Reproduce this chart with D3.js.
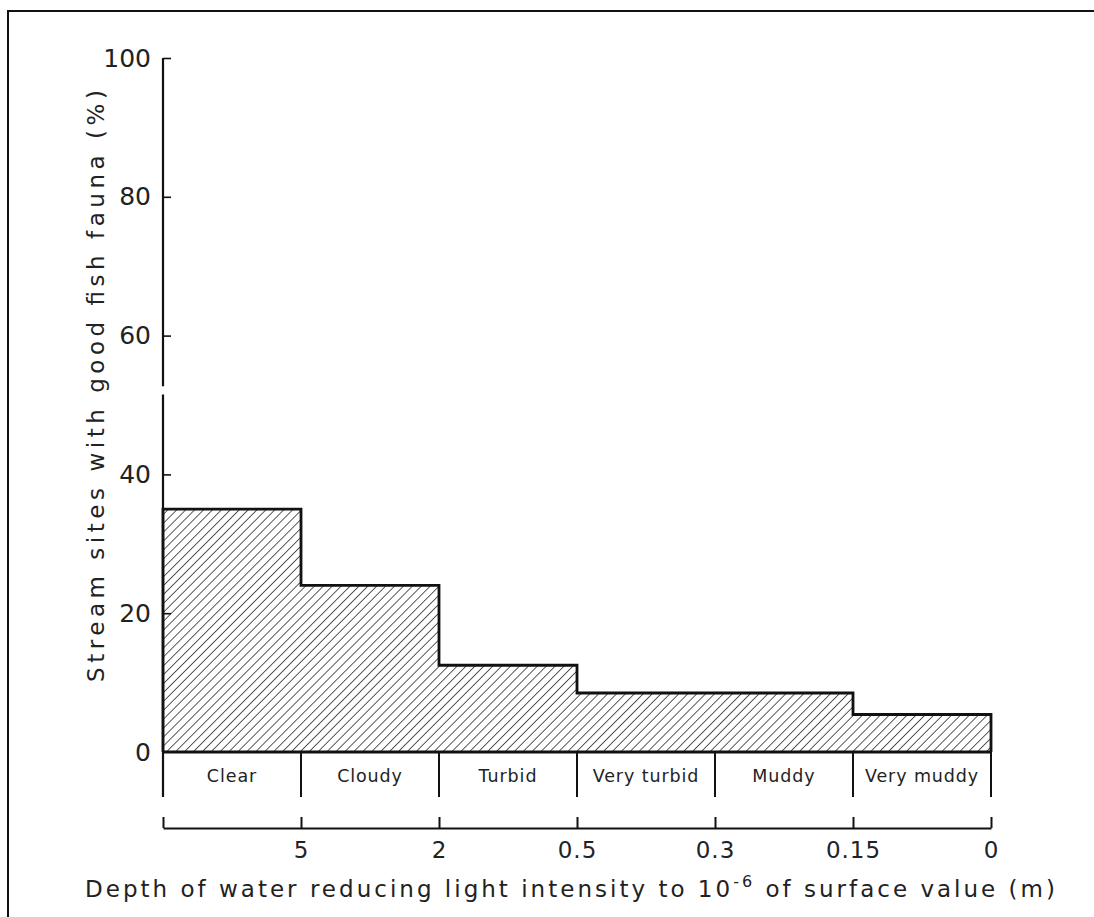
<!DOCTYPE html>
<meta charset="utf-8">
<script src="https://d3js.org/d3.v7.min.js"></script>
<style>
  body { margin: 0; background: #fff; }
  text { font-family: "DejaVu Sans", sans-serif; fill: #222; }
</style>
<div id="chart"></div>
<script>

// water clarity classes and share of sites with good fish fauna (%)
var categories = ["Clear", "Cloudy", "Turbid", "Very turbid", "Muddy", "Very muddy"];
var values = [35, 24, 12.5, 8.5, 8.5, 5.4];
// depth boundaries between classes (m)
var depthLabels = ["", "5", "2", "0.5", "0.3", "0.15", "0"];
var yTicks = [0, 20, 40, 60, 80, 100];

var W = 1094, H = 917;

var svg = d3.select("#chart")
  .append("svg")
    .attr("width", W)
    .attr("height", H);

// frame (runs off the right and bottom edges like the scan)
svg.append("rect")
  .attr("x", 8).attr("y", 11)
  .attr("width", W + 20).attr("height", H + 20)
  .attr("fill", "none")
  .attr("stroke", "#111")
  .attr("stroke-width", 2);

var defs = svg.append("defs");
var pat = defs.append("pattern")
  .attr("id", "hatch")
  .attr("patternUnits", "userSpaceOnUse")
  .attr("width", 6.3).attr("height", 6.3)
  .attr("patternTransform", "rotate(45)");
pat.append("line")
  .attr("x1", 0).attr("y1", 0).attr("x2", 0).attr("y2", 6.3)
  .attr("stroke", "#222")
  .attr("stroke-width", 1.5);

var x = d3.scaleBand()
  .domain(categories)
  .range([163, 991])
  .padding(0);

var xb = d3.scaleLinear()
  .domain([0, depthLabels.length - 1])
  .range([163, 991]);

var y = d3.scaleLinear()
  .domain([0, 100])
  .range([752, 58]);

var rowBottom = 797;

// hatched bars
svg.selectAll(".bar")
  .data(values)
  .enter()
  .append("rect")
    .attr("class", "bar")
    .attr("x", function(d, i) { return x(categories[i]); })
    .attr("y", function(d) { return y(d); })
    .attr("width", x.bandwidth())
    .attr("height", function(d) { return y(0) - y(d); })
    .attr("fill", "url(#hatch)");

// step outline
var pts = [[x(categories[0]), y(0)]];
values.forEach(function(d, i) {
  pts.push([x(categories[i]), y(d)]);
  pts.push([x(categories[i]) + x.bandwidth(), y(d)]);
});
pts.push([x(categories[categories.length - 1]) + x.bandwidth(), y(0)]);
svg.append("path")
  .attr("d", d3.line()(pts))
  .attr("fill", "none")
  .attr("stroke", "#111")
  .attr("stroke-width", 2.8)
  .attr("stroke-linejoin", "miter");

// baseline
svg.append("line")
  .attr("x1", xb(0)).attr("x2", xb(depthLabels.length - 1))
  .attr("y1", y(0)).attr("y2", y(0))
  .attr("stroke", "#111")
  .attr("stroke-width", 2.8);

// category row dividers
svg.selectAll(".div")
  .data(d3.range(depthLabels.length))
  .enter()
  .append("line")
    .attr("x1", function(d) { return xb(d); })
    .attr("x2", function(d) { return xb(d); })
    .attr("y1", y(0))
    .attr("y2", rowBottom)
    .attr("stroke", "#111")
    .attr("stroke-width", 2);

svg.selectAll(".cat")
  .data(categories)
  .enter()
  .append("text")
    .attr("x", function(d) { return x(d) + x.bandwidth() / 2; })
    .attr("y", 782)
    .attr("text-anchor", "middle")
    .attr("font-size", 17.5)
    .attr("letter-spacing", 0.9)
    .text(function(d) { return d; });

// y axis
var yAxis = svg.append("g")
  .attr("transform", "translate(163,0)")
  .call(d3.axisLeft(y)
    .tickValues(yTicks)
    .tickSizeInner(-8)
    .tickSizeOuter(0)
    .tickPadding(12));
yAxis.select(".domain").remove();
yAxis.selectAll(".tick line").attr("stroke", "#111").attr("stroke-width", 1.6);
yAxis.selectAll(".tick text")
  .attr("font-size", 25)
  .attr("fill", "#222")
  .attr("font-family", "DejaVu Sans, sans-serif");
yAxis.selectAll(".tick").filter(function(d) { return d === 0; }).select("line").remove();

// axis line with a small break
[[100, 52.7], [51.5, 0]].forEach(function(s) {
  svg.append("line")
    .attr("x1", 163).attr("x2", 163)
    .attr("y1", y(s[0])).attr("y2", s[1] === 0 ? rowBottom : y(s[1]))
    .attr("stroke", "#111")
    .attr("stroke-width", 2.2);
});

// bottom depth axis
var xAxis = svg.append("g")
  .attr("transform", "translate(0,828)")
  .call(d3.axisTop(xb)
    .tickValues(d3.range(depthLabels.length))
    .tickSizeInner(11)
    .tickSizeOuter(0)
    .tickFormat(function(d) { return depthLabels[d]; }));
xAxis.select(".domain").attr("stroke", "#111").attr("stroke-width", 2);
xAxis.selectAll(".tick line").attr("stroke", "#111").attr("stroke-width", 2);
xAxis.selectAll(".tick text")
  .attr("y", 30)
  .attr("dy", 0)
  .attr("font-size", 23)
  .attr("letter-spacing", 1)
  .attr("fill", "#222")
  .attr("font-family", "DejaVu Sans, sans-serif");

// axis titles
svg.append("text")
  .attr("transform", "translate(104,386) rotate(-90)")
  .attr("text-anchor", "middle")
  .attr("font-size", 23)
  .attr("textLength", 592)
  .attr("lengthAdjust", "spacing")
  .text("Stream sites with good fish fauna (%)");

var xt = svg.append("text")
  .attr("x", 85)
  .attr("y", 897)
  .attr("font-size", 23);
xt.append("tspan").text("Depth of water reducing light intensity to 10");
xt.append("tspan").attr("dy", -10).attr("font-size", 16).text("-6");
xt.append("tspan").attr("dy", 10).text(" of surface value (m)");
var tl = xt.node().getComputedTextLength();
xt.attr("letter-spacing", (973 - tl) / 68);

</script>
